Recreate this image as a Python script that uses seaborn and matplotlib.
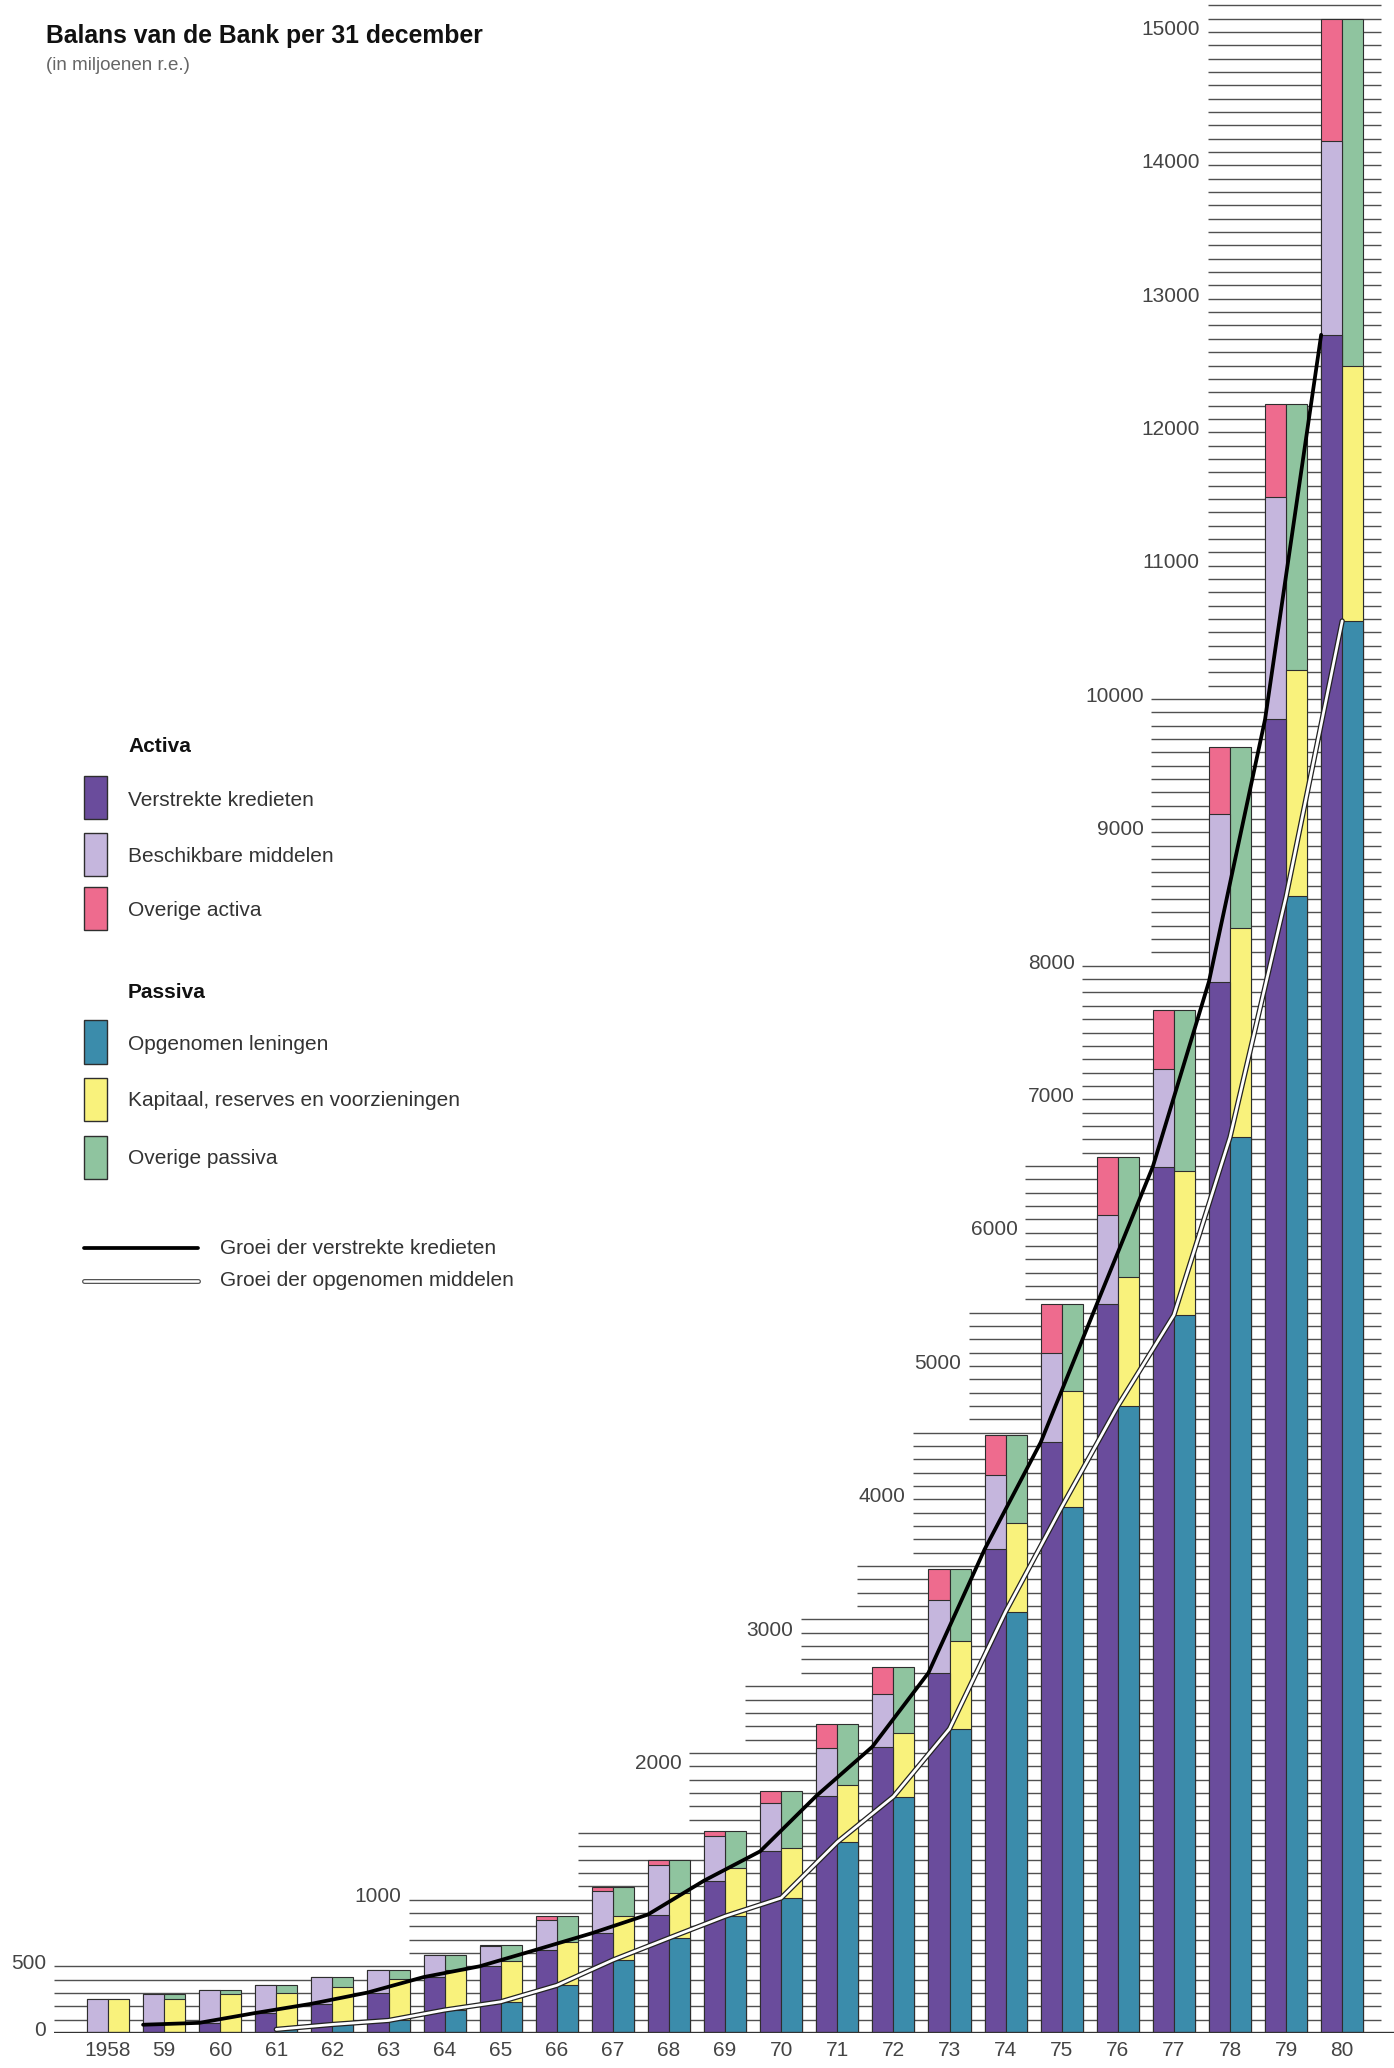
"""Balans van de Bank per 31 december, 1958-1980 (in miljoenen r.e.)."""

import matplotlib

matplotlib.use("Agg")

import matplotlib.pyplot as plt
import numpy as np
import pandas as pd
import seaborn as sns
from matplotlib.lines import Line2D
from matplotlib.patches import Rectangle

sns.set_style("white")
plt.rcParams["font.family"] = ["Liberation Sans", "DejaVu Sans"]

# ---- data (millions r.e.) ----
YEARS = ["1958", "59", "60", "61", "62", "63", "64", "65", "66", "67", "68", "69",
         "70", "71", "72", "73", "74", "75", "76", "77", "78", "79", "80"]

# Activa
VERSTREKTE_KREDIETEN = [0, 62, 76, 150, 219, 303, 419, 500, 623, 748, 888, 1142,
                        1362, 1777, 2146, 2700, 3625, 4427, 5463, 6495, 7882, 9847, 12730]
BESCHIKBARE_MIDDELEN = [254, 233, 244, 207, 202, 167, 164, 155, 227, 315, 374, 333,
                        363, 363, 397, 545, 559, 671, 671, 729, 1255, 1665, 1450]
OVERIGE_ACTIVA = [0, 0, 0, 0, 0, 0, 5, 8, 25, 34, 38, 42,
                  92, 175, 202, 231, 296, 367, 431, 448, 500, 703, 920]

# Passiva
OPGENOMEN_LENINGEN = [0, 0, 0, 27, 64, 94, 172, 234, 357, 547, 712, 875,
                      1012, 1431, 1772, 2280, 3158, 3943, 4700, 5382, 6715, 8520, 10585]
KAPITAAL_RESERVES = [254, 255, 290, 276, 283, 312, 303, 303, 328, 328, 338, 362,
                     375, 429, 474, 655, 663, 868, 964, 1078, 1565, 1700, 1915]
OVERIGE_PASSIVA = [0, 40, 30, 54, 74, 64, 113, 126, 190, 222, 250, 280,
                   430, 455, 499, 541, 659, 654, 901, 1212, 1357, 1995, 2600]

Y_TICKS = [0, 500, 1000, 2000, 3000, 4000, 5000, 6000, 7000, 8000,
           9000, 10000, 11000, 12000, 13000, 14000, 15000]

# growth lines start at these years
KRED_LINE_FROM = "59"
LENING_LINE_FROM = "61"

# ---- style ----
ACTIVA_COLORS = ["#6a4c9c", "#c5b6dd", "#ee6b8e"]
PASSIVA_COLORS = ["#3b8cab", "#f9f27c", "#8fc49f"]
EDGE = "#2e2e2e"
GRID = "#505050"
TEXT = "#444444"
LEGEND_SIZE = 15

# staircase grid: (lowest level, highest level, left start in group units)
GRID_BANDS = [
    (0, 500, -0.96), (600, 1000, 5.37), (1100, 1500, 8.38), (1600, 2100, 10.36),
    (2200, 2600, 11.36), (2700, 3100, 12.35), (3200, 3500, 13.35), (3600, 4500, 14.35),
    (4600, 5400, 15.35), (5500, 6500, 16.35), (6600, 8000, 17.37), (8100, 10000, 18.6),
    (10100, 15200, 19.6),
]
GRID_RIGHT = 22.7

W, H = 1394, 2068
BASE_PX = 2033          # baseline, pixels from the top
PX_PER_UNIT = 0.1334    # vertical pixels per million


def band_start(value):
    for lo, hi, start in GRID_BANDS:
        if lo <= value <= hi:
            return start
    return GRID_BANDS[-1][2]


def fig_xy(px, py):
    """Reference pixel (from top-left) to figure fraction."""
    return px / W, 1 - py / H


fig = plt.figure(figsize=(W / 100, H / 100), dpi=100)
ax = fig.add_axes([0, (H - BASE_PX) / H, 1, BASE_PX / H])

# grid lines behind the bars
levels, starts = [], []
for lo, hi, start in GRID_BANDS:
    for lev in range(lo, hi + 1, 100):
        if lev == 0:
            continue
        levels.append(lev)
        starts.append(start)
ax.hlines(levels, starts, GRID_RIGHT, colors=GRID, linewidth=1.0, zorder=0.5)
ax.hlines(0, GRID_BANDS[0][2], 22.92, colors="#333333", linewidth=1.7, zorder=3)

# stacked bars: draw cumulative layers from the top down
n = len(YEARS)
cum_a = np.cumsum([VERSTREKTE_KREDIETEN, BESCHIKBARE_MIDDELEN, OVERIGE_ACTIVA], axis=0)
cum_p = np.cumsum([OPGENOMEN_LENINGEN, KAPITAAL_RESERVES, OVERIGE_PASSIVA], axis=0)
for k in (2, 1, 0):
    layer = pd.DataFrame({
        "jaar": YEARS * 2,
        "zijde": ["Activa"] * n + ["Passiva"] * n,
        "waarde": np.concatenate([cum_a[k], cum_p[k]]),
    })
    sns.barplot(
        data=layer, x="jaar", y="waarde", hue="zijde",
        order=YEARS, hue_order=["Activa", "Passiva"],
        palette={"Activa": ACTIVA_COLORS[k], "Passiva": PASSIVA_COLORS[k]},
        width=0.75, saturation=1, errorbar=None, legend=False,
        edgecolor=EDGE, linewidth=0.8, zorder=2, ax=ax,
    )

# growth lines through the top-left corners of the bars
k0 = YEARS.index(KRED_LINE_FROM)
x_kred = np.arange(k0, n) - 0.375
sns.lineplot(x=x_kred, y=VERSTREKTE_KREDIETEN[k0:], color="black", linewidth=2.7,
             sort=False, zorder=5, ax=ax)
l0 = YEARS.index(LENING_LINE_FROM)
x_len = np.arange(l0, n).astype(float)
sns.lineplot(x=x_len, y=OPGENOMEN_LENINGEN[l0:], color="#222222", linewidth=3.8,
             sort=False, zorder=5, ax=ax)
sns.lineplot(x=x_len, y=OPGENOMEN_LENINGEN[l0:], color="white", linewidth=2.0,
             sort=False, zorder=6, ax=ax)

# y labels at the left end of the staircase
for v in Y_TICKS:
    ax.text(band_start(v) - 0.14, v + 20, str(v), ha="right", va="center",
            fontsize=15, color=TEXT)

ax.set_xlim(-108 / 56.1, (W - 108) / 56.1)
ax.set_ylim(0, BASE_PX / PX_PER_UNIT)
ax.set_yticks([])
ax.set_xticks(range(n))
ax.set_xticklabels(YEARS, fontsize=15, color=TEXT)
ax.tick_params(axis="x", length=0, pad=6)
ax.set_xlabel("")
ax.set_ylabel("")
sns.despine(ax=ax, left=True, bottom=True)

# title
fig.text(*fig_xy(46, 36), "Balans van de Bank per 31 december", fontsize=17.8,
         fontweight="bold", color="#111111", va="center", ha="left")
fig.text(*fig_xy(46, 66), "(in miljoenen r.e.)", fontsize=13.5, color="#666666",
         va="center", ha="left")


# legend
def legend_patch(cy, color, label):
    x, y = fig_xy(84, cy + 21.5)
    fig.add_artist(Rectangle((x, y), 23 / W, 43 / H, transform=fig.transFigure,
                             facecolor=color, edgecolor=EDGE, linewidth=1))
    fig.text(*fig_xy(128, cy + 2), label, fontsize=LEGEND_SIZE, color="#333333",
             va="center", ha="left")


fig.text(*fig_xy(128, 747), "Activa", fontsize=LEGEND_SIZE, fontweight="bold",
         color="#111111", va="center", ha="left")
for cy, color, label in zip([798, 854, 909], ACTIVA_COLORS,
                            ["Verstrekte kredieten", "Beschikbare middelen", "Overige activa"]):
    legend_patch(cy, color, label)

fig.text(*fig_xy(128, 992), "Passiva", fontsize=LEGEND_SIZE, fontweight="bold",
         color="#111111", va="center", ha="left")
for cy, color, label in zip([1042, 1099, 1157], PASSIVA_COLORS,
                            ["Opgenomen leningen", "Kapitaal, reserves en voorzieningen",
                             "Overige passiva"]):
    legend_patch(cy, color, label)

(x1, y1), (x2, _) = fig_xy(84, 1248), fig_xy(198, 1248)
fig.add_artist(Line2D([x1, x2], [y1, y1], transform=fig.transFigure, color="black", linewidth=2.7))
fig.text(*fig_xy(220, 1248), "Groei der verstrekte kredieten", fontsize=LEGEND_SIZE,
         color="#333333", va="center", ha="left")
(x1, y2), (x2, _) = fig_xy(84, 1281), fig_xy(198, 1281)
fig.add_artist(Line2D([x1, x2], [y2, y2], transform=fig.transFigure, color="#555555", linewidth=3.6))
fig.add_artist(Line2D([x1, x2], [y2, y2], transform=fig.transFigure, color="white", linewidth=1.8))
fig.text(*fig_xy(220, 1281), "Groei der opgenomen middelen", fontsize=LEGEND_SIZE,
         color="#333333", va="center", ha="left")

fig.savefig("out.png", dpi=100, facecolor="white")
